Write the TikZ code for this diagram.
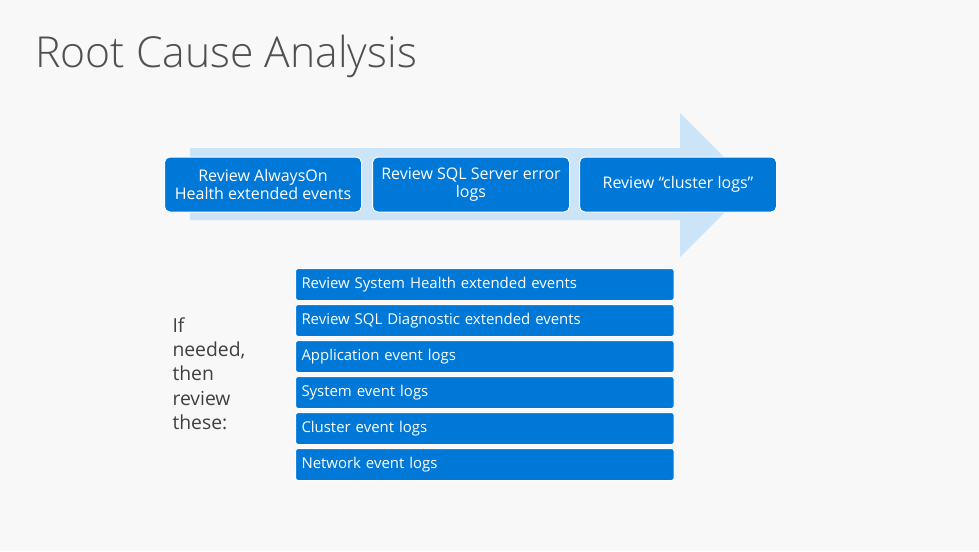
\documentclass[tikz,border=0pt]{standalone}
\usepackage{fontspec}
\setmainfont{Open Sans}
\newfontfamily\titlefont{Open Sans Light}
\definecolor{slidebg}{RGB}{248,248,248}
\definecolor{stepblue}{RGB}{0,120,215}
\definecolor{arrowblue}{RGB}{204,228,247}
\definecolor{titlegray}{RGB}{80,80,80}
\definecolor{notegray}{RGB}{64,64,64}

\tikzset{every picture/.style={line width=0.75pt}}
\tikzset{
  stepbox/.style={draw=white, fill=stepblue, rounded corners=4pt, text=white, align=center,
    minimum width=147.75pt, minimum height=41.25pt, inner sep=0.75pt,
    font=\fontsize{12}{13.5}\selectfont},
  logbox/.style={draw=white, fill=stepblue, rounded corners=2pt, text=white, anchor=north west,
    text width=275pt, align=left, minimum height=24pt, inner xsep=4.5pt, inner ysep=0pt,
    font=\fontsize{11.2}{12}\selectfont}
}

\begin{document}
\begin{tikzpicture}[x=0.75pt,y=0.75pt,yscale=-1,xscale=1]
%set diagram to the slide size 979 x 551
\fill [slidebg] (0,0) rectangle (979,551);
\useasboundingbox (0,0) rectangle (979,551);

% Text Node
\draw (35,67) node [anchor=base west][inner sep=0pt][text=titlegray, font=\titlefont\fontsize{32}{40}\selectfont] (title) {Root Cause Analysis};

%Block Arrow
\fill [arrowblue] (190,148) -- (680,148) -- (680,113) -- (752,185) -- (680,257) -- (680,220) -- (190,220) -- cycle ;

% Step Nodes
\draw (263,184.5) node [stepbox] (alwayson) {Review AlwaysOn\\Health extended events};
\draw (471,184.5) node [stepbox] (errorlog) {Review SQL Server error\\logs};
\draw (678,184.5) node [stepbox] (clusterlog) {Review “cluster logs”};

% Log Nodes
\draw (295,268) node [logbox] (syshealth) {Review System Health extended events};
\draw (295,304) node [logbox] (sqldiag) {Review SQL Diagnostic extended events};
\draw (295,340) node [logbox] (applog) {Application event logs};
\draw (295,376) node [logbox] (systemlog) {System event logs};
\draw (295,412) node [logbox] (clusterevt) {Cluster event logs};
\draw (295,448) node [logbox] (networklog) {Network event logs};

% Text Node
\draw (172,317) node [anchor=north west][inner sep=0pt][align=left, text=notegray, font=\fontsize{14.5}{18.2}\selectfont] (note) {If\\needed,\\then\\review\\these:};

\end{tikzpicture}
\end{document}
